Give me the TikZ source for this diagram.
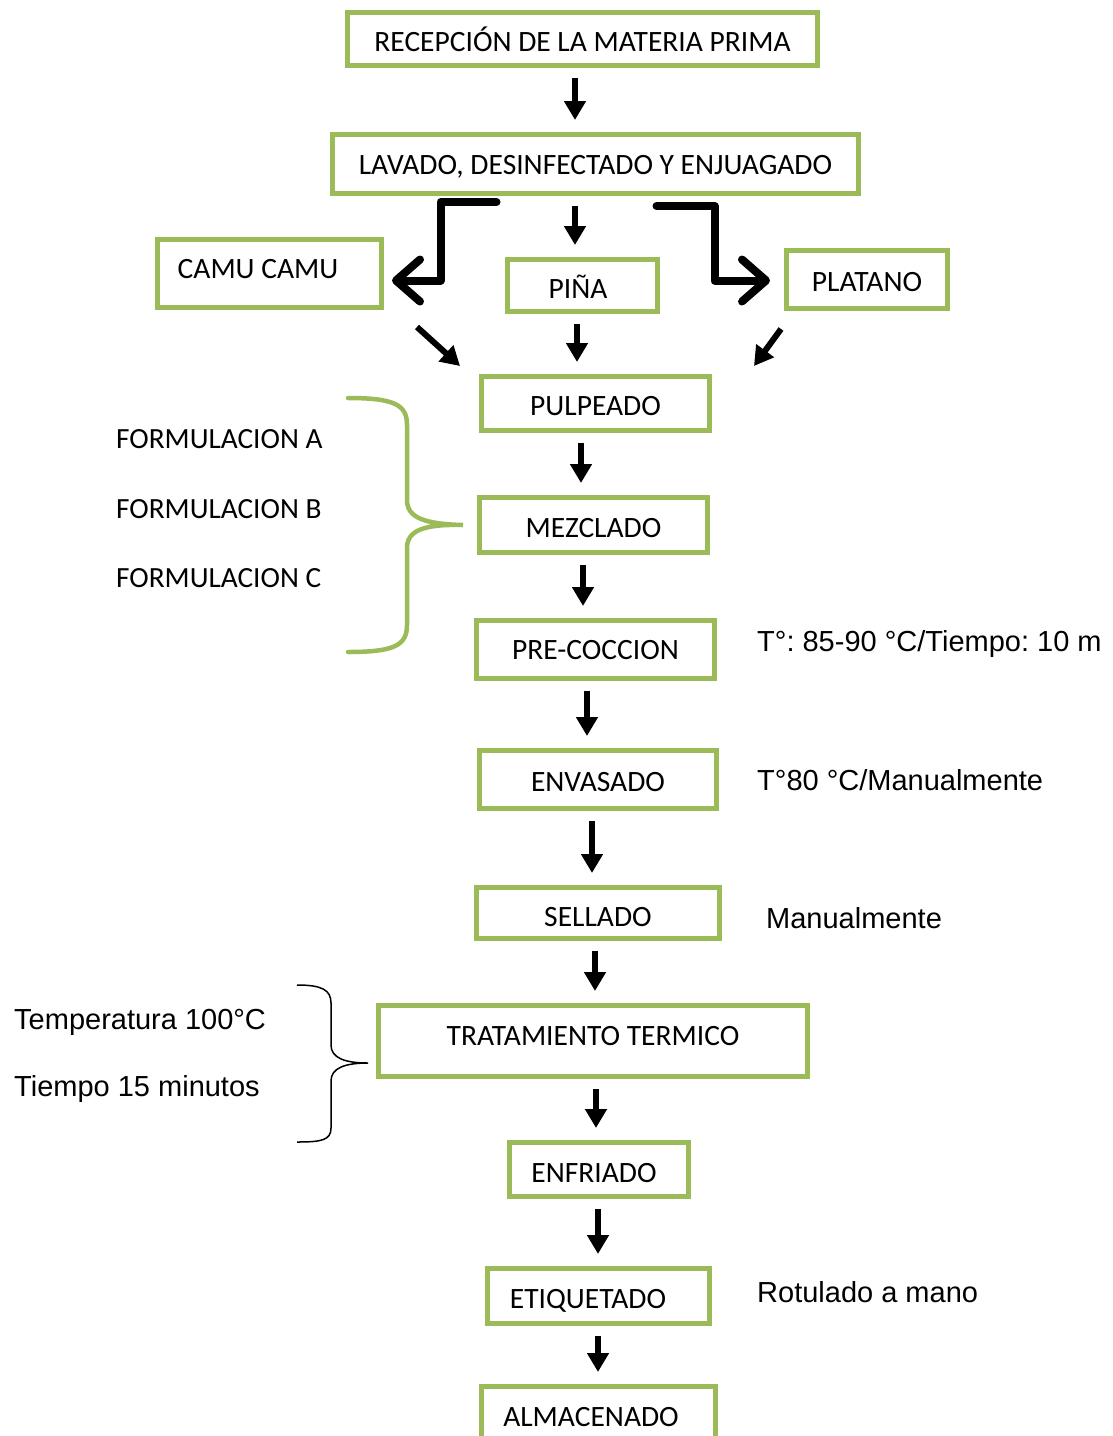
\documentclass[tikz,border=0pt]{standalone}
\usepackage{fontspec}
\setmainfont{Carlito}
\newfontfamily\arialfont{Liberation Sans}
\usetikzlibrary{arrows.meta}
\definecolor{boxgreen}{HTML}{9BBB59}
\frenchspacing

\begin{document}
\begin{tikzpicture}[x=1pt,y=-1pt,
	stepbox/.style={draw=boxgreen,line width=5pt,fill=white,inner sep=0pt,
		text height=32pt,text depth=8pt,font=\fontsize{29.5}{34}\selectfont},
	note/.style={anchor=base west,inner sep=0pt,font=\arialfont\fontsize{29}{34}\selectfont},
	form/.style={anchor=base west,inner sep=0pt,font=\fontsize{29.3}{34}\selectfont},
	down/.style={draw,line width=6pt,-{Triangle[length=19pt,width=21pt]},
		shorten <=10pt,shorten >=12pt},
	slant/.style={draw,line width=6pt,-{Triangle[length=19pt,width=21pt]}},
	bent/.style={draw,line width=8pt,line join=round,line cap=round,
		-{Straight Barb[length=24pt,width=42pt,line cap=round,line join=round]}}]

	\useasboundingbox (0,0) rectangle (1112,1436);
	\clip (0,0) rectangle (1112,1436);

	% process steps
	\node[stepbox,minimum width=470pt,minimum height=53pt] (rec) at (582.5,39) {RECEPCIÓN DE LA MATERIA PRIMA};
	\node[stepbox,minimum width=526pt,minimum height=59pt,text height=30.5pt,text depth=9.5pt] (lav) at (595.5,164) {LAVADO, DESINFECTADO Y ENJUAGADO};
	\node[stepbox,minimum width=224pt,minimum height=68pt,text height=25pt,text depth=15pt] (camu) at (269.5,273.5) {CAMU CAMU\hspace*{23pt}};
	\node[stepbox,minimum width=150pt,minimum height=52pt,text height=33pt,text depth=7pt] (pina) at (582.5,285.5) {PIÑA\hspace*{9pt}};
	\node[stepbox,minimum width=161pt,minimum height=58pt] (plat) at (867,279.5) {PLATANO};
	\node[stepbox,minimum width=228pt,minimum height=54pt] (pulp) at (595.5,403.5) {PULPEADO};
	\node[stepbox,minimum width=228pt,minimum height=55pt] (mezc) at (593.5,525) {MEZCLADO};
	\node[stepbox,minimum width=238pt,minimum height=58pt,text height=30pt,text depth=10pt] (prec) at (595.5,649.5) {PRE-COCCION};
	\node[stepbox,minimum width=237pt,minimum height=58pt] (envas) at (598,779.5) {ENVASADO};
	\node[stepbox,minimum width=243pt,minimum height=51pt,text height=33.5pt,text depth=6.5pt] (sell) at (598,913) {SELLADO};
	\node[stepbox,minimum width=429pt,minimum height=71pt,text height=24.5pt,text depth=15.5pt] (trat) at (593,1041) {TRATAMIENTO TERMICO};
	\node[stepbox,minimum width=179pt,minimum height=54pt,text height=33pt,text depth=7pt] (enfr) at (599,1169.5) {ENFRIADO\hspace*{10pt}};
	\node[stepbox,minimum width=222pt,minimum height=55pt] (etiq) at (598.5,1296) {ETIQUETADO\hspace*{21pt}};
	\node[stepbox,minimum width=234pt,minimum height=55pt] (alm) at (598.5,1414) {ALMACENADO\hspace*{15pt}};

	% side notes
	\node[form] (fa) at (116,448) {FORMULACION A};
	\node[form] (fb) at (116,518) {FORMULACION B};
	\node[form] (fc) at (116,587) {FORMULACION C};
	\node[note] (tprec) at (757,651) {T°: 85-90 °C/Tiempo: 10 m};
	\node[note] (tenv) at (757,790) {T°80 °C/Manualmente};
	\node[note] (tsell) at (766,928) {Manualmente};
	\node[note] (ttemp) at (14,1029) {Temperatura 100°C};
	\node[note] (ttiem) at (14,1096) {Tiempo 15 minutos};
	\node[note] (tetiq) at (757,1302) {Rotulado a mano};

	% straight arrows
	\path[every edge/.style={down}]
		(rec.south -| 575,0) edge (lav.north -| 575,0)
		(lav.south -| 575,0) edge (pina.north -| 575,0)
		(pina.south -| 577,0) edge (pulp.north -| 577,0)
		(pulp.south -| 581,0) edge (mezc.north -| 581,0)
		(mezc.south -| 583,0) edge (prec.north -| 583,0)
		(prec.south -| 587,0) edge (envas.north -| 587,0)
		(envas.south -| 592,0) edge (sell.north -| 592,0)
		(sell.south -| 595,0) edge (trat.north -| 595,0)
		(trat.south -| 596,0) edge (enfr.north -| 596,0)
		(enfr.south -| 598,0) edge (etiq.north -| 598,0)
		(etiq.south -| 598,0) edge (alm.north -| 598,0);

	\draw[slant] ([shift={(33,17)}]camu.south east) -- ([shift={(-19,-8)}]pulp.north west);
	\draw[slant] ([shift={(-3,18)}]plat.south west) -- ([shift={(42,-8)}]pulp.north east);

	% split into the fruits
	\draw[bent] ([shift={(-99,6)}]lav.south) -- ++(-56,0) |- ([shift={(8,7)}]camu.east);
	\draw[bent] ([shift={(61,10)}]lav.south) -- ++(58,0) |- ([shift={(-14,1)}]plat.west);

	% braces
	\draw[boxgreen,line width=4.5pt,line cap=round]
		(348,398) .. controls (395,398) and (407,405) .. (407,425) -- (407,500)
		.. controls (407,518) and (425,524) .. ([shift={(-14,0)}]mezc.west)
		.. controls (425,524) and (407,530) .. (407,548) -- (407,625)
		.. controls (407,645) and (395,652) .. (348,652);
	\draw[line width=1.5pt]
		(297,985) .. controls (322,985) and (331,990) .. (331,1003) -- (331,1045)
		.. controls (331,1058) and (345,1063) .. ([shift={(-8,22)}]trat.west)
		.. controls (345,1063) and (331,1068) .. (331,1081) -- (331,1128)
		.. controls (331,1140) and (322,1142) .. (297,1142);
\end{tikzpicture}
\end{document}
